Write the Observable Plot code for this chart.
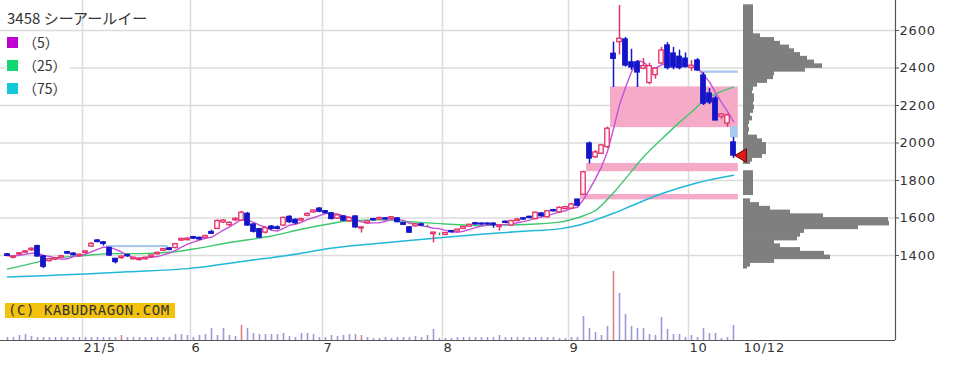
<!DOCTYPE html>
<html><head><meta charset="utf-8">
<script src="https://cdn.jsdelivr.net/npm/d3@7"></script>
<script src="https://cdn.jsdelivr.net/npm/@observablehq/plot@0.6"></script>
<style>
html,body{margin:0;padding:0;background:#fff;}
#chart{position:relative;width:957px;height:373px;overflow:hidden;background:#fff;}
#chart svg{position:absolute;left:0;top:0;max-width:none;}
.title{position:absolute;left:7px;top:10px;font-family:"Noto Sans CJK JP";font-size:15px;color:#333;line-height:16px;white-space:nowrap;}
.leg{position:absolute;left:6px;height:13px;display:flex;align-items:center;background:#fff;padding:0 3px 0 1px;}
.leg i{display:inline-block;width:11px;height:11px;margin-right:5px;}
.leg span{font-family:"Noto Sans CJK JP";font-size:14px;color:#333;line-height:13px;}
.copy{position:absolute;left:5px;top:303px;width:170px;height:15px;background:#f2c20e;font-family:"DejaVu Sans Mono";font-size:14px;line-height:15px;color:#333;letter-spacing:0.55px;padding-left:3px;box-sizing:border-box;white-space:nowrap;}
</style>
</head><body>
<div id="chart"></div>
<script>
// ---- data ----
const stockName = "3458 シーアールイー";
const maLabels = ["（5）", "（25）", "（75）"];
const copyright = "(C) KABUDRAGON.COM";

const open  = [1406,1388,1405,1415,1428,1450,1395,1370,1378,1388,1418,1410,1396,1414,1448,1480,1470,1440,1382,1386,
               1402,1380,1376,1380,1392,1406,1425,1438,1440,1480,1482,1498,1494,1494,1525,1542,1576,1562,1588,1586,
               1622,1565,1540,1522,1554,1550,1560,1606,1590,1586,1612,1630,1650,1636,1625,1597,1608,1582,1608,1544,
               1572,1594,1592,1598,1596,1598,1572,1550,1556,1566,1556,1514,1513,1510,1530,1528,1542,1554,1572,1570,
               1570,1570,1552,1580,1560,1584,1598,1606,1594,1624,1604,1642,1630,1648,1650,1698,1724,1997,1924,1943,
               1978,2476,2538,2552,2430,2430,2396,2320,2362,2424,2520,2477,2460,2450,2400,2440,2360,2264,2237,2140,
               2104,2003];
const high  = [1410,1398,1415,1425,1440,1455,1400,1385,1390,1398,1422,1415,1408,1425,1470,1485,1475,1445,1385,1398,
               1406,1390,1386,1390,1402,1418,1438,1442,1465,1492,1495,1502,1498,1508,1535,1590,1592,1580,1600,1636,
               1630,1570,1545,1552,1560,1558,1606,1612,1595,1598,1626,1642,1655,1640,1630,1620,1612,1604,1612,1552,
               1588,1598,1604,1602,1606,1602,1576,1555,1570,1570,1562,1524,1520,1522,1534,1540,1552,1566,1576,1574,
               1574,1574,1562,1584,1588,1596,1602,1610,1632,1628,1640,1646,1660,1662,1680,1700,1850,2005,1960,1990,
               2085,2538,2733,2563,2500,2440,2450,2425,2400,2510,2535,2510,2495,2480,2440,2450,2375,2290,2250,2158,
               2155,2030];
const low   = [1395,1382,1400,1410,1422,1390,1330,1365,1372,1382,1405,1398,1392,1408,1442,1468,1450,1395,1355,1380,
               1390,1376,1370,1375,1386,1402,1420,1425,1436,1475,1478,1485,1482,1490,1512,1538,1570,1555,1580,1580,
               1555,1520,1490,1515,1535,1536,1555,1570,1565,1580,1606,1626,1628,1622,1590,1592,1582,1578,1545,1520,
               1568,1584,1588,1588,1590,1575,1560,1518,1552,1556,1550,1467,1505,1505,1520,1524,1538,1550,1562,1560,
               1562,1545,1530,1570,1555,1580,1588,1596,1590,1605,1600,1632,1625,1644,1645,1660,1722,1888,1918,1938,
               1972,2296,2470,2405,2387,2296,2390,2310,2340,2418,2390,2390,2390,2400,2382,2381,2200,2205,2120,2125,
               2084,1917];
const close = [1398,1395,1412,1422,1436,1395,1340,1380,1386,1396,1410,1402,1404,1422,1462,1472,1462,1400,1365,1394,
               1396,1388,1382,1388,1400,1414,1434,1430,1460,1488,1490,1490,1486,1504,1516,1584,1586,1574,1596,1628,
               1560,1527,1496,1546,1542,1542,1600,1578,1572,1594,1622,1640,1634,1626,1595,1614,1586,1600,1550,1550,
               1582,1588,1600,1592,1604,1578,1564,1522,1566,1560,1556,1522,1513,1520,1524,1538,1552,1564,1566,1566,
               1566,1564,1560,1574,1584,1592,1592,1600,1628,1610,1636,1636,1654,1658,1672,1666,1844,1917,1950,1987,
               2076,2449,2556,2413,2403,2376,2410,2410,2396,2493,2400,2403,2400,2405,2412,2387,2210,2216,2120,2152,
               2147,1933];
const volume = [3,3,5,6,4,3,3,3,3,3,3,3,3,3,3,3,3,3,3,5,
                3,3,3,3,3,3,3,3,6,6,5,3,5,6,12,5,12,5,4,15,
                12,7,6,6,6,6,7,4,3,7,7,6,3,3,5,4,5,6,6,5,
                3,2,2,3,2,3,3,3,4,3,5,11,2,2,2,3,3,3,3,3,
                3,3,5,3,3,3,3,3,3,3,3,3,2,2,3,3,24,12,8,5,
                14,69,47,26,14,12,12,6,5,23,11,6,6,3,5,3,12,7,7,2,
                3,15];
const redVolumeIdx = [19, 39, 59, 101];

const ma25Idx = [0,5,8,13,17,22,27,31,37,44,49,53,57,62,67,72,79,83,87,92,94,96,98,101,103,106,109,112,114,116,119,121];
const ma25Val = [1327,1365,1385,1400,1410,1410,1417,1435,1469,1504,1540,1565,1585,1590,1580,1570,1560,1563,1567,1578,1592,1612,1640,1735,1810,1925,2020,2110,2165,2225,2275,2298];
const ma75Idx = [0,7,13,20,30,40,49,53,62,72,80,88,92,95,98,101,104,109,115,121];
const ma75Val = [1285,1294,1302,1313,1330,1372,1412,1435,1465,1495,1516,1533,1542,1560,1590,1625,1665,1729,1788,1828];

// price gaps (windows)
const gapStart = [17, 96, 97, 101, 116, 121];
const gapEnd   = [26, 121, 121, 121, 121, 121];
const gapLow   = [1445, 1700, 1850, 2085, 2375, 2030];
const gapHigh  = [1450, 1722, 1888, 2296, 2381, 2084];
const gapDir   = ["down","up","up","up","down","down"];

// volume-by-price profile
const profLo  = [2720,2700,2680,2660,2640,2620,2600,2580,2560,2540,2520,2500,2480,2460,2440,2420,2400,2380,2360,2340,
                 2320,2300,2280,2260,2240,2220,2200,2180,2160,2140,2120,2100,2080,2060,2040,2020,2000,1980,1960,1940,
                 1920,1900,1888,1840,1820,1800,1780,1760,1740,1722,1680,1660,1640,1620,1600,1580,1560,1540,1520,1500,
                 1480,1460,1440,1420,1400,1380,1360,1340,1330];
const profHi  = [2735,2720,2700,2680,2660,2640,2620,2600,2580,2560,2540,2520,2500,2480,2460,2440,2420,2400,2380,2360,
                 2340,2320,2300,2280,2260,2240,2220,2200,2180,2160,2140,2120,2100,2080,2060,2040,2020,2000,1980,1960,
                 1940,1920,1900,1850,1840,1820,1800,1780,1760,1740,1700,1680,1660,1640,1620,1600,1580,1560,1540,1520,
                 1500,1480,1460,1440,1420,1400,1380,1360,1340];
const profVol = [10,10,10,10,10,10,10,10,17,31,37,46,51,57,64,71,79,62,31,30,
                 24,14,10,9,11,11,10,11,10,7,9,6,5,6,5,14,19,23,23,23,
                 19,9,7,10,10,10,10,10,10,10,7,16,27,47,80,145,146,115,61,57,
                 54,31,37,57,81,87,31,7,4];

const monthTickIdx = [12.5, 30.5, 52.5, 72.5, 93.5, 113.5];
const monthTickLabels = ["21/5", "6", "7", "8", "9", "10"];
const lastDateLabel = "10/12";
const priceTicks = [1400, 1600, 1800, 2000, 2200, 2400, 2600];

// ---- build ----
const candles = close.map((c, i) => ({i, open: open[i], high: high[i], low: low[i], close: c}));
const lastIdx = candles.length - 1;
const UP = "#e3306a", DOWN = "#1414c8", DOJI = "#2a9a4a";
const colorOf = d => d.close > d.open ? UP : d.close < d.open ? DOWN : DOJI;
const vols = volume.map((v, i) => ({i, v, red: redVolumeIdx.includes(i)}));
const ma25 = ma25Idx.map((x, k) => ({x, y: ma25Val[k]}));
const ma75 = ma75Idx.map((x, k) => ({x, y: ma75Val[k]}));
const gaps = gapStart.map((s, k) => ({s, e: gapEnd[k], lo: gapLow[k], hi: gapHigh[k], dir: gapDir[k]}));
const prof = profLo.map((lo, k) => ({lo, hi: profHi[k], v: profVol[k]}));
const months = monthTickIdx.map((x, k) => ({x, label: monthTickLabels[k]}));

const W = 957, H = 373, plotRight = 895, plotBottom = 340;
const xDomain = [-7/6, 148];
const yDomain = [946.67, 2760];
const base = {width: W, height: H, marginLeft: 0, marginRight: W - plotRight, marginTop: 0, marginBottom: H - plotBottom};
const fontStyle = {fontFamily: "DejaVu Sans", fontSize: "13px", color: "#333", letterSpacing: "0.8px"};

const main = Plot.plot({
  ...base,
  style: {...fontStyle, background: "#fff"},
  x: {domain: xDomain, axis: null},
  y: {domain: yDomain, axis: null},
  color: {type: "identity"},
  marks: [
    Plot.ruleY(priceTicks, {stroke: "#dcdcdc", strokeWidth: 1.5}),
    Plot.ruleX(monthTickIdx, {stroke: "#dcdcdc", strokeWidth: 1.5}),
    Plot.rect(gaps, {x1: d => d.s - 0.5, x2: d => d.e + 0.8, y1: "lo", y2: "hi",
      fill: d => d.dir === "up" ? "#f5aac8" : "#a9c8f0", insetTop: -0.6, insetBottom: -0.6}),
    Plot.line(ma75, {x: "x", y: "y", stroke: "#22b8d8", strokeWidth: 1.5, curve: "monotone-x"}),
    Plot.line(ma25, {x: "x", y: "y", stroke: "#3cc86e", strokeWidth: 1.4, curve: "monotone-x"}),
    Plot.lineY(candles, Plot.windowY({k: 5, anchor: "end", reduce: "mean"},
      {x: "i", y: "close", stroke: "#c850d8", strokeWidth: 1.4})),
    Plot.ruleX(candles, {x: "i", y1: "low", y2: "high", stroke: colorOf, strokeWidth: 1.5}),
    Plot.rect(candles, {x1: d => d.i - 0.37, x2: d => d.i + 0.37, y1: "open", y2: "close",
      fill: d => d.close > d.open ? "#fff4f8" : colorOf(d), stroke: colorOf, strokeWidth: 1.3}),
    Plot.ruleX([xDomain[1]], {stroke: "#555", strokeWidth: 1.2}),
    Plot.ruleY([yDomain[0]], {stroke: "#555", strokeWidth: 1.2}),
    Plot.axisY(priceTicks, {anchor: "right", tickSize: 3, tickPadding: 1, tickFormat: d => String(d),
      stroke: "#555", fill: "#333", label: null, fontSize: 13}),
    Plot.text(months, {x: "x", text: "label", frameAnchor: "bottom", textAnchor: "start", dx: 1, dy: 11, fill: "#333", fontSize: 13}),
    Plot.text([lastDateLabel], {x: lastIdx + 1.5, text: d => d, frameAnchor: "bottom", textAnchor: "start", dx: 1, dy: 11, fill: "#333", fontSize: 13})
  ]
});

const volPlot = Plot.plot({
  ...base,
  style: {background: "transparent"},
  x: {domain: xDomain, axis: null},
  y: {domain: [0, 70], range: [plotBottom, plotBottom - 70], axis: null},
  marks: [
    Plot.ruleX(vols, {x: "i", y1: 0, y2: "v", stroke: d => d.red ? "#d48585" : "#9a9ad6", strokeWidth: 1.6})
  ]
});

const profPlot = Plot.plot({
  ...base,
  style: {background: "transparent"},
  x: {domain: [0, 150], range: [743, 893], axis: null},
  y: {domain: yDomain, axis: null},
  marks: [
    Plot.rect(prof, {x1: 0, x2: "v", y1: "lo", y2: "hi", fill: "#7f7f7f", insetTop: -0.4, insetBottom: -0.4}),
    Plot.dot([close[lastIdx]], {x: 0, y: d => d, symbol: "triangle", r: 5, rotate: -90, dx: -1,
      fill: "#e01818", stroke: "#6a0000", strokeWidth: 1})
  ]
});

const chart = document.getElementById("chart");
chart.append(main, volPlot, profPlot);

const title = document.createElement("div");
title.className = "title";
title.textContent = stockName;
chart.append(title);

const legColors = ["#c000d0", "#12d872", "#14c8da"];
const legTops = [36, 59, 82];
maLabels.forEach((lab, k) => {
  const row = document.createElement("div");
  row.className = "leg";
  row.style.top = legTops[k] + "px";
  const sw = document.createElement("i");
  sw.style.background = legColors[k];
  const t = document.createElement("span");
  t.textContent = lab;
  row.append(sw, t);
  chart.append(row);
});

const cp = document.createElement("div");
cp.className = "copy";
cp.textContent = copyright;
chart.append(cp);
</script>
</body></html>
